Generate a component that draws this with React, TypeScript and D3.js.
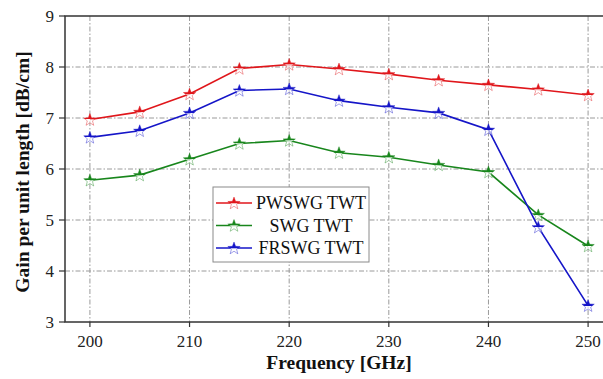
import React from "react";
import * as d3 from "d3";

const frequency = [200, 205, 210, 215, 220, 225, 230, 235, 240, 245, 250];
const pwswg = [6.97, 7.12, 7.47, 7.97, 8.05, 7.96, 7.86, 7.74, 7.65, 7.56, 7.45];
const swg = [5.78, 5.88, 6.19, 6.5, 6.56, 6.32, 6.23, 6.08, 5.94, 5.1, 4.49];
const frswg = [6.62, 6.75, 7.1, 7.54, 7.57, 7.34, 7.21, 7.1, 6.77, 4.86, 3.32];
const seriesNames = ["PWSWG TWT", "SWG TWT", "FRSWG TWT"];
const seriesColors = ["#e0161b", "#18861c", "#1515c8"];
const xTicks = [200, 210, 220, 230, 240, 250];
const yTicks = [3, 4, 5, 6, 7, 8, 9];

const W = 603, H = 379;
const L = 65, T = 16, R = 613, B = 322;

function starPath(cx: number, cy: number, r: number) {
  const pts: [number, number][] = [];
  const inner = r * 0.42;
  for (let i = 0; i < 10; i++) {
    const a = -Math.PI / 2 + (i * Math.PI) / 5;
    const rr = i % 2 === 0 ? r : inner;
    pts.push([cx + rr * Math.cos(a), cy + rr * Math.sin(a)]);
  }
  return "M" + pts.map((p) => p[0].toFixed(2) + "," + p[1].toFixed(2)).join("L") + "Z";
}

export default function App() {
  const x = d3.scaleLinear().domain([197.5, 252.5]).range([L, R]);
  const y = d3.scaleLinear().domain([3, 9]).range([B, T]);
  const data = [pwswg, swg, frswg];
  const line = d3
    .line<number>()
    .x((_, i) => x(frequency[i]))
    .y((d) => y(d));
  const font = "'Liberation Serif', 'Times New Roman', serif";
  const grid = "#9a9a9a";
  const dash = "5,2,1.5,2";
  const axisColor = "#333";

  const Marker = ({ cx, cy, k }: { cx: number; cy: number; k: number }) => (
    <path
      d={starPath(cx, cy + 0.5, 6.5)}
      fill={`url(#grad${k})`}
      stroke={seriesColors[k]}
      strokeOpacity={0.45}
      strokeWidth={0.9}
    />
  );

  return (
    <svg
      width={W}
      height={H}
      style={{ position: "fixed", left: 0, top: 0, background: "#fff", fontFamily: font }}
    >
      <defs>
        {seriesColors.map((c, k) => (
          <linearGradient key={k} id={`grad${k}`} x1="0" y1="0" x2="0" y2="1">
            <stop offset="0" stopColor={c} />
            <stop offset="0.5" stopColor={c} />
            <stop offset="0.5" stopColor="#fff" stopOpacity={0.6} />
            <stop offset="1" stopColor="#fff" stopOpacity={0.6} />
          </linearGradient>
        ))}
      </defs>
      <rect x={0} y={0} width={W} height={H} fill="#fff" />
      {/* grid */}
      {xTicks.map((t) => (
        <line key={"gx" + t} x1={x(t)} x2={x(t)} y1={T} y2={B} stroke={grid} strokeDasharray={dash} strokeWidth={1} />
      ))}
      {yTicks.slice(1, -1).map((t) => (
        <line key={"gy" + t} x1={L} x2={R} y1={y(t)} y2={y(t)} stroke={grid} strokeDasharray={dash} strokeWidth={1} />
      ))}
      {/* series */}
      {data.map((d, k) => (
        <g key={"s" + k}>
          <path d={line(d) || ""} fill="none" stroke={seriesColors[k]} strokeWidth={1.6} />
          {d.map((v, i) => (
            <Marker key={i} cx={x(frequency[i])} cy={y(v)} k={k} />
          ))}
        </g>
      ))}
      {/* frame */}
      <rect x={L} y={T} width={R - L} height={B - T} fill="none" stroke={axisColor} strokeWidth={1.5} />
      {/* ticks */}
      {xTicks.map((t) => (
        <g key={"tx" + t}>
          <line x1={x(t)} x2={x(t)} y1={B} y2={B + 5} stroke={axisColor} strokeWidth={1.2} />
          <text x={x(t)} y={347} fontSize={17} textAnchor="middle" fill="#222">
            {t}
          </text>
        </g>
      ))}
      {yTicks.map((t) => (
        <g key={"ty" + t}>
          <line x1={L - 6} x2={L} y1={y(t)} y2={y(t)} stroke={axisColor} strokeWidth={1.2} />
          <text x={54} y={y(t)} dy="0.35em" fontSize={17} textAnchor="end" fill="#222">
            {t}
          </text>
        </g>
      ))}
      {/* axis labels */}
      <text x={339} y={369} fontSize={19.5} fontWeight="bold" textAnchor="middle" fill="#111">
        Frequency [GHz]
      </text>
      <text
        transform={`translate(29, 172) rotate(-90)`}
        fontSize={19.5}
        fontWeight="bold"
        textAnchor="middle"
        fill="#111"
      >
        Gain per unit length [dB/cm]
      </text>
      {/* legend */}
      <rect x={213} y={187} width={156} height={75} fill="#fff" stroke="#8a8a8a" strokeWidth={1} />
      {seriesNames.map((n, k) => {
        const ly = [203, 225.5, 248][k];
        return (
          <g key={"lg" + k}>
            <line x1={216} x2={252} y1={ly} y2={ly} stroke={seriesColors[k]} strokeWidth={1.6} />
            <Marker cx={234} cy={ly} k={k} />
            <text x={311} y={ly} dy="0.35em" fontSize={18} textAnchor="middle" fill="#111">
              {n}
            </text>
          </g>
        );
      })}
    </svg>
  );
}
